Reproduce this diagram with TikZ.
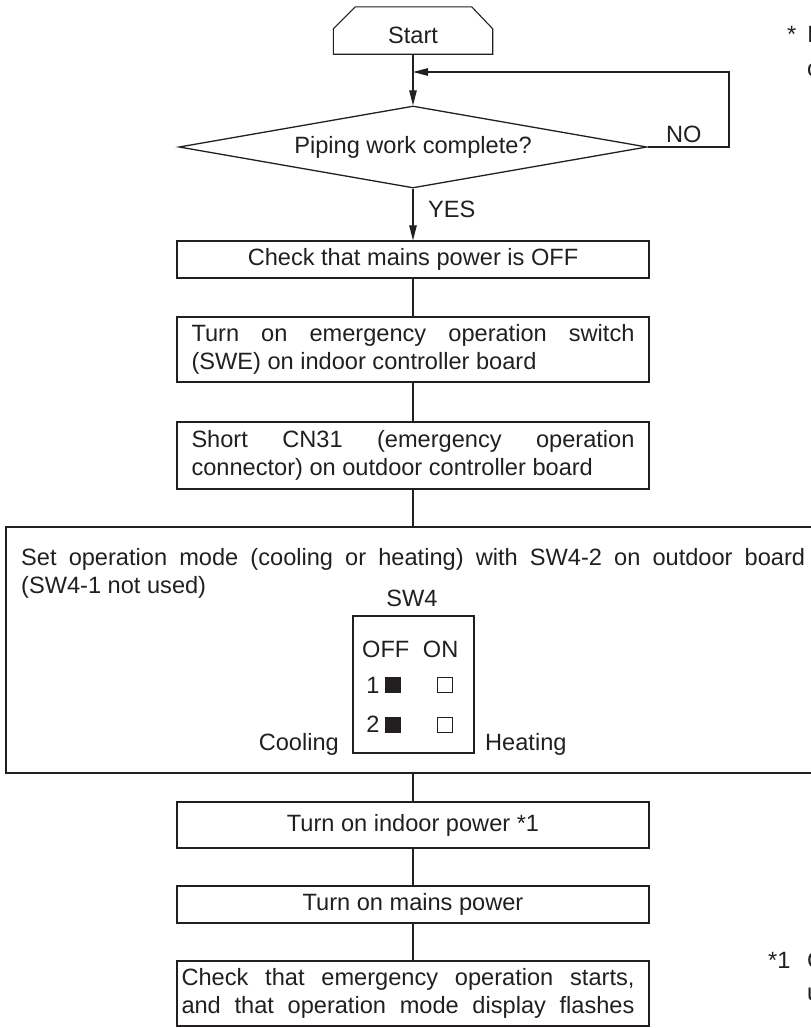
\documentclass[tikz,border=0pt]{standalone}
\usepackage{fontspec}
\setmainfont{Liberation Sans}
\usetikzlibrary{shapes.geometric,arrows.meta,calc}
\definecolor{ink}{HTML}{231F20}
\begin{document}
\begin{tikzpicture}[x=1pt,y=-1pt,
  every node/.style={font=\fontsize{23.6}{28}\selectfont, text=ink, inner sep=0pt},
  flowbox/.style={draw=ink, line width=1.3pt, minimum width=472pt, align=left},
  conn/.style={draw=ink, line width=1.1pt},
  arr/.style={conn, -{Triangle[length=15pt,width=7.5pt]}},
  lbl/.style={anchor=base west},
  blacksq/.style={fill=ink, minimum size=16pt},
  whitesq/.style={draw=ink, line width=0.9pt, minimum size=15pt, fill=white}]
\useasboundingbox (0,0) rectangle (811,1028);
\clip (0,0) rectangle (811,1028);

% Start terminal
\node[minimum width=159pt, minimum height=47pt, text height=25pt, text depth=0pt] (start) at (413,30.5) {Start};
\draw[conn] (start.south west) -- ($(start.north west)+(0,22)$) -- ($(start.north west)+(22,0)$)
  -- ($(start.north east)+(-21,0)$) -- ($(start.north east)+(0,22)$) -- (start.south east) -- cycle;

% Decision
\node[diamond, draw=ink, line width=1.3pt, minimum width=468pt, minimum height=82pt, shape aspect=5.7] (dia) at (413,147) {Piping work complete?};
\coordinate (jn) at (413,72);
\coordinate (loopc) at (729,147);
\draw[arr] (start.south) -- (dia.north);
\draw[arr] (dia.east) -- (loopc) |- (jn);
\node[lbl] (no) at (666,142) {NO};
\node[lbl] (yes) at (428,217) {YES};

% Steps
\node[flowbox, minimum height=37pt] (b1) at (413,259.5) {Check that mains power is OFF};
\draw[arr] (dia.south) -- (b1.north);

\node[flowbox, minimum height=65pt] (b2) at (413,349.5) {\makebox[443pt][s]{Turn on emergency operation switch}\\(SWE) on indoor controller board};
\node[flowbox, minimum height=67pt] (b3) at (413,455.5) {\makebox[443pt][s]{Short CN31 (emergency operation}\\connector) on outdoor controller board};
\draw[conn] (b1.south) -- (b2.north);
\draw[conn] (b2.south) -- (b3.north);

% Mode setting box
\node[draw=ink, line width=1.3pt, minimum width=824pt, minimum height=246pt] (big) at (418,650) {};
\draw[conn] (b3.south) -- (b3.south |- big.north);
\node[lbl] (t1) at (21,565) {\makebox[784pt][s]{Set operation mode (cooling or heating) with SW4-2 on outdoor board}};
\node[lbl] (t2) at (21,593) {(SW4-1 not used)};
\node[anchor=base] (swl) at (412,606) {SW4};
\node[draw=ink, line width=1.3pt, minimum width=121pt, minimum height=137pt] (sw) at (413.5,684.5) {};
\node[lbl] (offon) at (362,657) {OFF\hspace{7pt} ON};
\node[anchor=base] (n1) at (373,693) {1};
\node[anchor=base] (n2) at (373,732) {2};
\node[blacksq] (k1) at (393,684.5) {};
\node[blacksq] (k2) at (393,725) {};
\node[whitesq] (w1) at (445,684.5) {};
\node[whitesq] (w2) at (445,725) {};
\node[anchor=base east] (cool) at (339,750) {Cooling};
\node[anchor=base west] (heat) at (485,750) {Heating};

% Lower steps
\node[flowbox, minimum height=46pt] (b4) at (413,825) {Turn on indoor power *1};
\node[flowbox, minimum height=37pt] (b5) at (413,904.5) {Turn on mains power};
\node[flowbox, minimum height=65pt] (b6) at (413,993.5) {\makebox[463pt][l]{\makebox[453pt][s]{Check that emergency operation starts,}}\\\makebox[463pt][l]{\makebox[453pt][s]{and that operation mode display flashes}}};
\draw[conn] (b4.north |- big.south) -- (b4.north);
\draw[conn] (b4.south) -- (b5.north);
\draw[conn] (b5.south) -- (b6.north);

% Notes cut at the right edge (as in the reference)
\node[lbl] (ast) at (787,42) {*};
\node[lbl] (na) at (807,42) {I};
\node[lbl] (nb) at (807,76) {c};
\node[lbl] (f1) at (768,968) {*1};
\node[lbl] (f2) at (807,968) {C};
\node[lbl] (f3) at (807,1000) {u};
\end{tikzpicture}
\end{document}
